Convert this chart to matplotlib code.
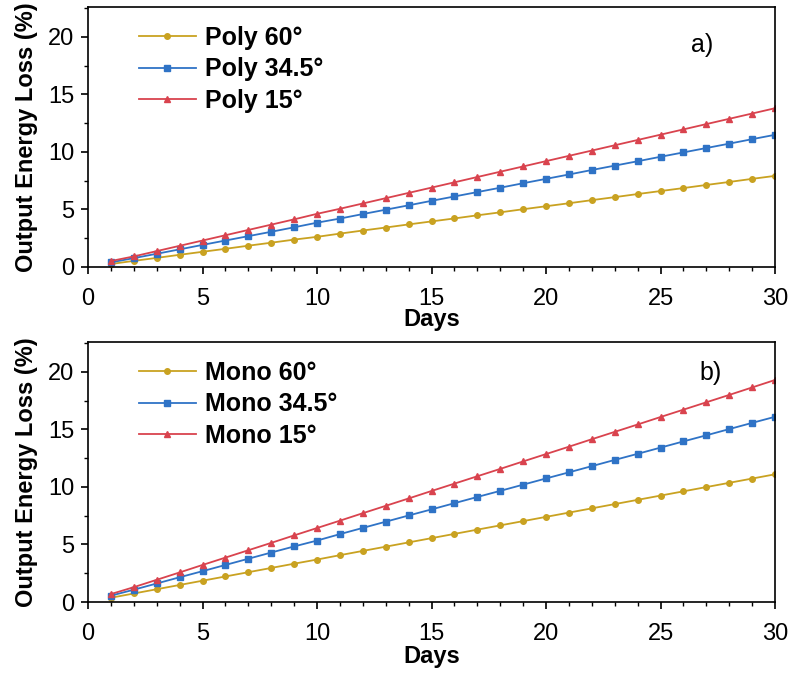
import matplotlib
matplotlib.use("Agg")
import matplotlib.pyplot as plt
from matplotlib.ticker import MultipleLocator

plt.rcParams['font.family'] = ['Liberation Sans', 'DejaVu Sans']

days = list(range(1, 31))

# top panel: polycrystalline
poly_60 = [0.26, 0.53, 0.79, 1.06, 1.32, 1.58, 1.85, 2.11, 2.38, 2.62,
           2.90, 3.17, 3.43, 3.70, 3.96, 4.22, 4.49, 4.75, 5.02, 5.28,
           5.54, 5.81, 6.07, 6.34, 6.60, 6.86, 7.13, 7.39, 7.66, 7.92]
poly_345 = [0.40, 0.77, 1.15, 1.53, 1.92, 2.30, 2.68, 3.06, 3.45, 3.85,
            4.21, 4.60, 4.98, 5.36, 5.75, 6.13, 6.51, 6.89, 7.28, 7.66,
            8.04, 8.43, 8.81, 9.19, 9.58, 9.96, 10.34, 10.72, 11.11, 11.49]
poly_15 = [0.52, 0.92, 1.38, 1.84, 2.30, 2.76, 3.22, 3.68, 4.14, 4.62,
           5.06, 5.52, 5.98, 6.44, 6.90, 7.36, 7.82, 8.28, 8.74, 9.20,
           9.66, 10.12, 10.58, 11.04, 11.50, 11.96, 12.42, 12.88, 13.34, 13.80]

# bottom panel: monocrystalline
mono_60 = [0.37, 0.74, 1.11, 1.48, 1.85, 2.22, 2.59, 2.96, 3.33, 3.69,
           4.07, 4.44, 4.81, 5.18, 5.55, 5.92, 6.29, 6.66, 7.03, 7.40,
           7.77, 8.14, 8.51, 8.88, 9.25, 9.62, 9.99, 10.36, 10.73, 11.10]
mono_345 = [0.55, 1.07, 1.61, 2.15, 2.68, 3.22, 3.76, 4.30, 4.83, 5.34,
            5.90, 6.44, 6.98, 7.52, 8.05, 8.59, 9.13, 9.66, 10.20, 10.74,
            11.27, 11.81, 12.35, 12.88, 13.42, 13.96, 14.49, 15.03, 15.57, 16.10]
mono_15 = [0.69, 1.29, 1.93, 2.57, 3.22, 3.86, 4.50, 5.14, 5.79, 6.43,
           7.07, 7.72, 8.36, 9.00, 9.65, 10.29, 10.93, 11.57, 12.22, 12.86,
           13.50, 14.15, 14.79, 15.43, 16.08, 16.72, 17.36, 18.00, 18.65, 19.30]

c_yellow = '#C9A221'
c_blue = '#2F73C6'
c_red = '#D9434E'

fig = plt.figure(figsize=(7.91, 6.79), dpi=100)
ax1 = fig.add_axes([0.1113, 0.6068, 0.8685, 0.3829])
ax2 = fig.add_axes([0.1113, 0.1134, 0.8685, 0.3829])

panels = [
    (ax1, 'Poly', [poly_60, poly_345, poly_15], 'a)', (26.8, 19.3), -1.5),
    (ax2, 'Mono', [mono_60, mono_345, mono_15], 'b)', (27.2, 19.9), 0),
]

for ax, name, series, tag, tagpos, xpad in panels:
    s60, s345, s15 = series
    ax.plot(days, s60, '-o', color=c_yellow, lw=1.3, ms=4, label=name + ' 60°')
    ax.plot(days, s345, '-s', color=c_blue, lw=1.3, ms=4, label=name + ' 34.5°')
    ax.plot(days, s15, '-^', color=c_red, lw=1.3, ms=5, label=name + ' 15°')
    ax.set_xlim(0, 30)
    ax.set_ylim(0, 22.6)
    ax.xaxis.set_major_locator(MultipleLocator(5))
    ax.xaxis.set_minor_locator(MultipleLocator(1))
    ax.yaxis.set_major_locator(MultipleLocator(5))
    ax.yaxis.set_minor_locator(MultipleLocator(2.5))
    ax.tick_params(which='major', direction='out', length=5, width=1.2, labelsize=17)
    ax.tick_params(axis='x', which='major', pad=10)
    ax.tick_params(axis='y', which='major', pad=5)
    ax.tick_params(which='minor', direction='out', length=3, width=1.0)
    for sp in ax.spines.values():
        sp.set_linewidth(1.2)
    ax.set_xlabel('Days', fontsize=17, fontweight='bold', labelpad=xpad)
    ax.set_ylabel('Output Energy Loss (%)', fontsize=17, fontweight='bold', labelpad=7)
    ax.text(tagpos[0], tagpos[1], tag, fontsize=18, ha='center', va='center')
    ax.legend(loc='upper left', bbox_to_anchor=(0.05, 0.99), frameon=False,
              prop={'size': 18, 'weight': 'bold'}, handlelength=2.3,
              handletextpad=0.35, labelspacing=0.3, borderaxespad=0.25)

fig.savefig('out.png', dpi=100)
